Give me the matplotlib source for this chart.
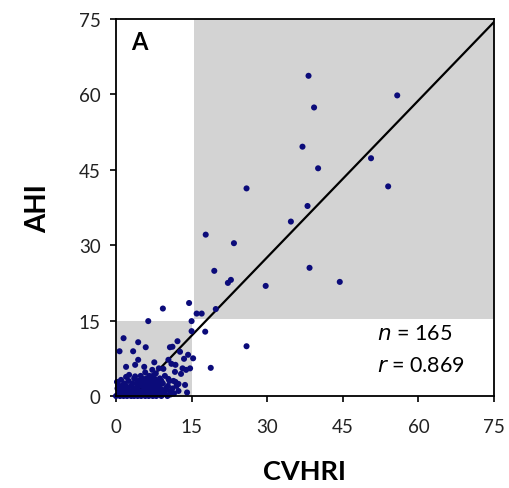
import matplotlib
matplotlib.use("Agg")
import matplotlib.pyplot as plt
from matplotlib.patches import Rectangle
import numpy as np

plt.rcParams['font.family'] = ['Lato', 'DejaVu Sans']

# ---- data ----
cvhri_high = [38.2, 39.3, 55.8, 37.0, 50.6, 40.1, 54.0, 25.9, 38.0, 34.7,
              17.8, 23.4, 19.5, 38.4, 22.8, 22.2, 29.7, 44.4, 14.5, 9.3,
              19.8, 16.0, 17.0, 6.4, 15.0]
ahi_high = [63.7, 57.4, 59.8, 49.6, 47.3, 45.3, 41.7, 41.3, 37.8, 34.7,
            32.1, 30.4, 24.9, 25.5, 23.1, 22.5, 21.9, 22.7, 18.5, 17.4,
            17.3, 16.4, 16.4, 14.9, 14.9]

cvhri_mid = [15.0, 17.7, 12.2, 11.2, 1.5, 4.4, 5.9, 10.7, 0.7, 3.4,
             12.7, 14.3, 15.3, 13.5, 4.4, 7.6, 10.4, 2.0, 3.8, 5.6,
             9.4, 11.8, 13.2, 14.7, 18.8, 7.2, 8.5, 25.9, 13.9, 2.6,
             5.8, 7.9, 11.7, 12.9, 13.7, 14.1, 11.0]
ahi_mid = [12.9, 12.8, 10.9, 9.8, 11.5, 10.7, 9.7, 9.7, 8.9, 8.9,
           8.8, 8.2, 7.5, 7.4, 7.2, 6.7, 7.2, 5.8, 6.2, 5.8,
           5.4, 6.2, 5.5, 5.5, 5.6, 5.2, 5.5, 9.9, 5.2, 4.2,
           4.7, 4.5, 4.8, 4.4, 2.2, 0.7, 6.4]

cvhri_low = [0.0, 0.8, 1.5, 2.2, 3.0, 3.6, 4.3, 5.0, 5.8, 6.5, 7.3, 8.0, 9.0, 10.2,
             0.5, 1.2, 2.0, 2.8, 3.4, 4.0, 4.8, 5.5, 6.2, 7.0, 7.8, 8.6, 9.6, 11.5,
             1.0, 1.8, 2.6, 3.2, 4.5, 5.2, 6.0, 6.8, 7.5, 8.3, 9.2, 10.8, 12.4,
             0.3, 1.4, 2.3, 3.8, 4.2, 5.7, 6.4, 7.2, 8.0, 8.8, 9.9, 11.2,
             1.1, 2.0, 3.0, 4.6, 5.3, 6.1, 6.9, 7.7, 8.5, 10.3, 12.0,
             1.7, 3.3, 4.1, 5.0, 5.9, 6.6, 7.4, 8.2, 9.3,
             2.5, 4.4, 5.5, 6.3, 7.0, 7.9, 9.0, 10.6,
             3.6, 5.1, 6.0, 6.8, 7.6, 8.7, 3.8,
             4.9, 6.6, 7.3, 9.7,
             10.4, 11.4, 11.8, 12.4,
             0.2, 0.4, 1.0, 2.0, 9.8, 10.8]
ahi_low = [0.0, 0.0, 0.0, 0.0, 0.0, 0.0, 0.0, 0.0, 0.0, 0.0, 0.0, 0.0, 0.0, 0.0,
           0.5, 0.5, 0.5, 0.5, 0.5, 0.5, 0.5, 0.5, 0.5, 0.5, 0.5, 0.5, 0.5, 0.5,
           1.0, 1.0, 1.0, 1.0, 1.0, 1.0, 1.0, 1.0, 1.0, 1.0, 1.0, 1.0, 1.0,
           1.5, 1.5, 1.5, 1.5, 1.5, 1.5, 1.5, 1.5, 1.5, 1.5, 1.5, 1.5,
           2.0, 2.0, 2.0, 2.0, 2.0, 2.0, 2.0, 2.0, 2.0, 2.0, 2.0,
           2.5, 2.5, 2.5, 2.5, 2.5, 2.5, 2.5, 2.5, 2.5,
           3.0, 3.0, 3.0, 3.0, 3.0, 3.0, 3.0, 3.0,
           3.5, 3.5, 3.5, 3.5, 3.5, 3.5, 3.9,
           4.0, 4.0, 4.0, 4.0,
           3.4, 3.0, 2.8, 2.4,
           2.8, 2.2, 3.2, 3.8, 1.0, 0.3]

cvhri = np.array(cvhri_high + cvhri_mid + cvhri_low)
ahi = np.array(ahi_high + ahi_mid + ahi_low)

fit_slope = 1.04
fit_intercept = -3.6
threshold = 15
ticks = [0, 15, 30, 45, 60, 75]
n_text = "165"
r_text = "0.869"

# ---- figure ----
fig = plt.figure(figsize=(5.09, 4.89), dpi=100)
ax = fig.add_axes([116/509, 92/489, 378/509, 377/489])
ax.set_xlim(0, 75)
ax.set_ylim(0, 75)

gray = '#d3d3d3'
ax.add_patch(Rectangle((0, 0), threshold, threshold, facecolor=gray, edgecolor='none', zorder=0))
ax.add_patch(Rectangle((threshold + 0.5, threshold + 0.3), 75 - threshold - 0.5, 75 - threshold - 0.3,
                       facecolor=gray, edgecolor='none', zorder=0))

xl = np.array([0, 75])
ax.plot(xl, fit_slope * xl + fit_intercept, color='black', lw=1.6, zorder=2)

ax.scatter(cvhri, ahi, s=19, color='#0b0b7a', edgecolors='none', zorder=3, clip_on=False)

ax.set_xticks(ticks)
ax.set_yticks(ticks)
ax.tick_params(axis='both', direction='out', length=4, width=1.2, labelsize=13.5,
               colors='black', labelcolor='#222222')
ax.tick_params(axis='x', pad=12)
ax.tick_params(axis='y', pad=7)
for sp in ax.spines.values():
    sp.set_linewidth(1.3)
    sp.set_zorder(4)

ax.set_xlabel('CVHRI', fontsize=19.5, fontweight='bold', labelpad=17)
ax.set_ylabel('AHI', fontsize=20, fontweight='bold', labelpad=20)

ax.text(3.0, 72.8, 'A', fontsize=17, fontweight='bold', ha='left', va='top')
ax.text(51.8, 11.3, r'$\it{n}$ = ' + n_text, fontsize=15.5, ha='left', va='baseline')
ax.text(51.8, 4.9, r'$\it{r}$ = ' + r_text, fontsize=15.5, ha='left', va='baseline')

fig.savefig('out.png', dpi=100)
